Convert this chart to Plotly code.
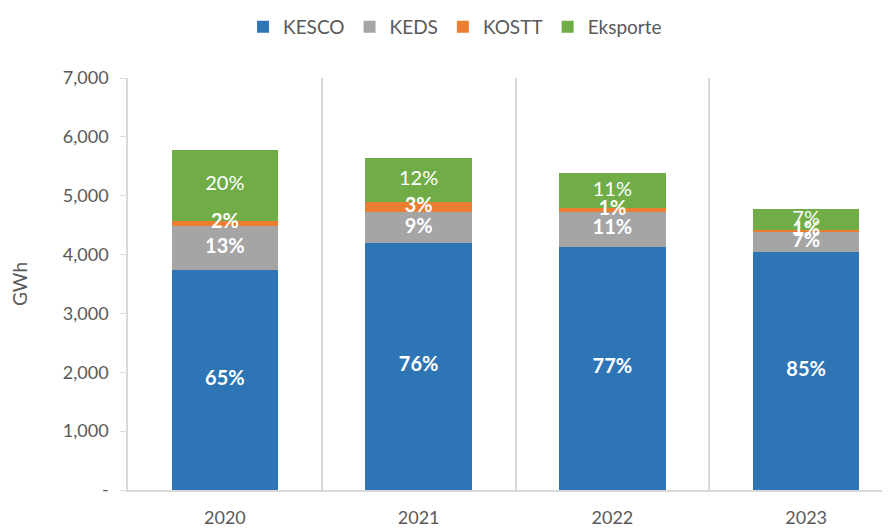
import plotly.graph_objects as go

years = ["2020", "2021", "2022", "2023"]
kesco = [3746, 4203, 4136, 4051]
keds = [734, 514, 581, 327]
kostt = [96, 181, 75, 41]
eksporte = [1199, 741, 586, 349]

kesco_lbl = ["65%", "76%", "77%", "85%"]
keds_lbl = ["13%", "9%", "11%", "7%"]
kostt_lbl = ["2%", "3%", "1%", "1%"]
eks_lbl = ["20%", "12%", "11%", "7%"]

y_ticks = [0, 1000, 2000, 3000, 4000, 5000, 6000, 7000]
y_ticktext = ["-", "1,000", "2,000", "3,000", "4,000", "5,000", "6,000", "7,000"]

FONT = "Lato"
GRAY = "#595959"
LINE = "#D9D9D9"

series = [
    ("KESCO", kesco, kesco_lbl, "#2E75B6", "bold"),
    ("KEDS", keds, keds_lbl, "#A5A5A5", "bold"),
    ("KOSTT", kostt, kostt_lbl, "#ED7D31", "bold"),
    ("Eksporte", eksporte, eks_lbl, "#70AD47", "normal"),
]

fig = go.Figure()
base = [0] * len(years)
label_traces = []
for name, vals, lbls, col, w in series:
    fig.add_trace(go.Bar(
        name=name, x=years, y=vals,
        marker=dict(color=col, line=dict(width=0)),
        hoverinfo="x+y+name",
    ))
    mids = [b + v / 2 for b, v in zip(base, vals)]
    label_traces.append(go.Scatter(
        x=years, y=mids, text=lbls, mode="text", textposition="middle center",
        textfont=dict(family=FONT, size=20, color="white", weight=w),
        showlegend=False, hoverinfo="skip",
    ))
    base = [b + v for b, v in zip(base, vals)]

for t in label_traces:
    fig.add_trace(t)

fig.update_layout(
    barmode="stack",
    bargap=0.45,
    width=895, height=528,
    margin=dict(l=120, r=0, t=70, b=46, autoexpand=False),
    plot_bgcolor="white", paper_bgcolor="white",
    font=dict(family=FONT, size=18, color=GRAY),
    legend=dict(orientation="h", xref="paper", yref="paper",
                x=0.422, xanchor="center", y=1.124, yanchor="middle",
                font=dict(size=19, color=GRAY), traceorder="normal"),
    showlegend=True,
)
fig.update_xaxes(
    type="category", tickson="boundaries", showgrid=True, gridcolor=LINE,
    gridwidth=1.5, showline=True, linecolor=LINE, linewidth=1.5,
    ticks="", tickfont=dict(size=18, color=GRAY), ticklabelstandoff=11,
    automargin=False,
)
fig.update_yaxes(
    range=[0, 7000], tickvals=y_ticks, ticktext=y_ticktext, showgrid=False,
    showline=True, linecolor=LINE, linewidth=1.5, ticks="outside",
    ticklen=6, tickcolor=LINE, tickfont=dict(size=18, color=GRAY),
    ticklabelstandoff=8, zeroline=False, automargin=False,
    title=dict(text="GWh", font=dict(size=19, color=GRAY), standoff=32),
)

fig.write_html("out.html")
